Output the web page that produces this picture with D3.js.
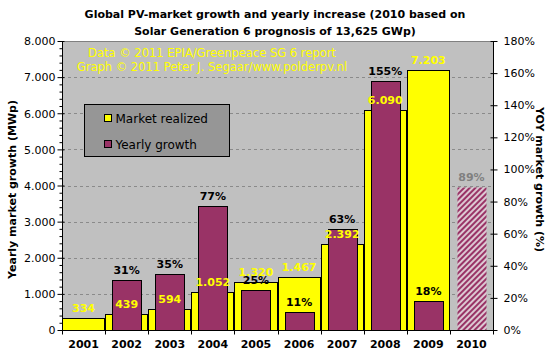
<!DOCTYPE html>
<html>
<head>
<meta charset="UTF-8">
<title>Global PV-market growth</title>
<script src="https://cdn.jsdelivr.net/npm/d3@7"></script>
<style>
  body { margin: 0; background: #fff; }
  text { font-family: "DejaVu Sans", Verdana, sans-serif; }
</style>
</head>
<body>
<div id="chart"></div>
<script>
// data
var years  = ["2001", "2002", "2003", "2004", "2005", "2006", "2007", "2008", "2009", "2010"];
var market = [334, 439, 594, 1052, 1320, 1467, 2392, 6090, 7203, null];  // MWp
var growth = [null, 31, 35, 77, 25, 11, 63, 155, 18, 89];               // % yoy
var prognosis = [false, false, false, false, false, false, false, false, false, true];
var leftTicks  = [0, 1000, 2000, 3000, 4000, 5000, 6000, 7000, 8000];
var rightTicks = [0, 20, 40, 60, 80, 100, 120, 140, 160, 180];

var W = 551, H = 361;
var pL = 62, pR = 493, pT = 41, pB = 330;   // plot area

var nl = d3.formatLocale({decimal: ",", thousands: ".", grouping: [3], currency: ["", ""]});
var fmt = nl.format(",");

var svg = d3.select("#chart").append("svg")
  .attr("width", W).attr("height", H);

var defs = svg.append("defs");
var pat = defs.append("pattern")
  .attr("id", "hatch")
  .attr("patternUnits", "userSpaceOnUse")
  .attr("width", 4).attr("height", 4)
  .attr("patternTransform", "rotate(45)");
pat.append("rect").attr("width", 4).attr("height", 4).attr("fill", "#dcc8d2");
pat.append("rect").attr("width", 2).attr("height", 4).attr("fill", "#993366");

var x = d3.scaleBand().domain(years).range([pL, pR]).padding(0);
var yL = d3.scaleLinear().domain([0, 8000]).range([pB, pT]);
var yR = d3.scaleLinear().domain([0, 180]).range([pB, pT]);

// plot background
svg.append("rect")
  .attr("x", pL).attr("y", pT)
  .attr("width", pR - pL).attr("height", pB - pT)
  .attr("fill", "#c0c0c0");

// gridlines
svg.append("g").selectAll("line")
  .data(leftTicks.filter(function(d){ return d > 0 && d < 8000; }))
  .enter().append("line")
  .attr("x1", pL).attr("x2", pR)
  .attr("y1", function(d){ return Math.round(yL(d)) + 0.5; })
  .attr("y2", function(d){ return Math.round(yL(d)) + 0.5; })
  .attr("stroke", "#8a8a8a")
  .attr("stroke-dasharray", "3,3");

svg.append("line")
  .attr("x1", pL).attr("x2", pR)
  .attr("y1", pT + 0.5).attr("y2", pT + 0.5)
  .attr("stroke", "#808080");

// copyright notes
var note = svg.append("g").attr("fill", "#ffff00").attr("font-size", 11.5).attr("text-anchor", "middle");
note.append("text").attr("x", 212).attr("y", 57).text("Data \u00a9 2011 EPIA/Greenpeace SG 6 report");
note.append("text").attr("x", 212).attr("y", 71).text("Graph \u00a9 2011 Peter J. Segaar/www.polderpv.nl");

// market bars (yellow)
var mIdx = d3.range(years.length).filter(function(i){ return market[i] != null; });
svg.append("g").selectAll("rect")
  .data(mIdx).enter().append("rect")
  .attr("x", function(i){ return Math.round(x(years[i])) + 0.5; })
  .attr("y", function(i){ return Math.round(yL(market[i])) + 0.5; })
  .attr("width", function(i){ return Math.round(x(years[i]) + x.bandwidth()) - Math.round(x(years[i])) - 1; })
  .attr("height", function(i){ return pB - Math.round(yL(market[i])); })
  .attr("fill", "#ffff00")
  .attr("stroke", "#000");

// growth bars (purple)
var bw = Math.round(x.bandwidth() * 0.67);
var gIdx = d3.range(years.length).filter(function(i){ return growth[i] != null; });
svg.append("g").selectAll("rect")
  .data(gIdx).enter().append("rect")
  .attr("x", function(i){ return Math.round(x(years[i]) + (x.bandwidth() - bw) / 2) + 0.5; })
  .attr("y", function(i){ return Math.round(yR(growth[i])) + 0.5; })
  .attr("width", bw)
  .attr("height", function(i){ return pB - Math.round(yR(growth[i])); })
  .attr("fill", function(i){ return prognosis[i] ? "url(#hatch)" : "#993366"; })
  .attr("stroke", function(i){ return prognosis[i] ? "none" : "#000"; });

// value labels
svg.append("g").selectAll("text")
  .data(mIdx).enter().append("text")
  .attr("x", function(i){ return x(years[i]) + x.bandwidth() / 2; })
  .attr("y", function(i){ return yL(market[i]) - 6; })
  .attr("text-anchor", "middle")
  .attr("font-size", 11).attr("font-weight", "bold")
  .attr("fill", "#ffff00")
  .text(function(i){ return fmt(market[i]); });

svg.append("g").selectAll("text")
  .data(gIdx).enter().append("text")
  .attr("x", function(i){ return x(years[i]) + x.bandwidth() / 2; })
  .attr("y", function(i){ return yR(growth[i]) - 6; })
  .attr("text-anchor", "middle")
  .attr("font-size", 11).attr("font-weight", "bold")
  .attr("fill", function(i){ return prognosis[i] ? "#808080" : "#000"; })
  .text(function(i){ return growth[i] + "%"; });

// left axis
var axL = svg.append("g").attr("transform", "translate(" + (pL + 0.5) + ",0)");
axL.call(d3.axisLeft(yL).tickValues(d3.range(0, 8001, 200)).tickSize(3).tickFormat(""));
axL.selectAll(".tick line").filter(function(d){ return d % 1000 === 0; })
  .attr("x1", 2).attr("x2", -5);
axL.selectAll(".tick text").remove();
axL.selectAll(".tick").filter(function(d){ return leftTicks.indexOf(d) >= 0; })
  .append("text")
  .attr("x", -7).attr("dy", "0.35em")
  .attr("fill", "#000").attr("font-size", 11).attr("text-anchor", "end")
  .text(function(d){ return fmt(d); });
axL.select(".domain").attr("d", "M0," + pT + "V" + pB);

// right axis
var axR = svg.append("g").attr("transform", "translate(" + (pR + 0.5) + ",0)");
axR.call(d3.axisRight(yR).tickValues(rightTicks).tickSize(4).tickPadding(6)
  .tickFormat(function(d){ return d + "%"; }));
axR.selectAll(".tick line").attr("x1", -3);
axR.selectAll(".tick text").attr("font-size", 11).attr("font-family", null);
axR.select(".domain").attr("d", "M0," + pT + "V" + pB);

// bottom axis
var axB = svg.append("g").attr("transform", "translate(0," + (pB + 0.5) + ")");
axB.call(d3.axisBottom(x).tickSize(0).tickPadding(10));
axB.select(".domain").attr("d", "M" + pL + ",0H" + pR);
axB.selectAll(".tick text").attr("font-size", 11).attr("font-weight", "bold").attr("font-family", null);
axB.selectAll("line.sep")
  .data(years.concat(["end"])).enter().append("line")
  .attr("class", "sep")
  .attr("x1", function(d, i){ return Math.round(pL + i * x.bandwidth()) + 0.5; })
  .attr("x2", function(d, i){ return Math.round(pL + i * x.bandwidth()) + 0.5; })
  .attr("y1", 0).attr("y2", 4)
  .attr("stroke", "#000");

// axis titles
svg.append("text")
  .attr("transform", "translate(16," + ((pT + pB) / 2 + 4) + ") rotate(-90)")
  .attr("text-anchor", "middle")
  .attr("font-size", 11).attr("font-weight", "bold")
  .text("Yearly market growth (MWp)");

svg.append("text")
  .attr("transform", "translate(536," + ((pT + pB) / 2 - 6) + ") rotate(90)")
  .attr("text-anchor", "middle")
  .attr("font-size", 11).attr("font-weight", "bold")
  .text("YOY market growth (%)");

// title
var title = svg.append("g").attr("text-anchor", "middle").attr("font-size", 11).attr("font-weight", "bold");
title.append("text").attr("x", 275).attr("y", 18).text("Global PV-market growth and yearly increase (2010 based on");
title.append("text").attr("x", 275).attr("y", 35).text("Solar Generation 6 prognosis of 13,625 GWp)");

// legend
var lg = svg.append("g").attr("transform", "translate(84.5,104.5)");
lg.append("rect").attr("width", 145).attr("height", 52)
  .attr("fill", "#969696").attr("stroke", "#000");
var items = [{label: "Market realized", color: "#ffff00"}, {label: "Yearly growth", color: "#993366"}];
var li = lg.selectAll("g.item").data(items).enter().append("g")
  .attr("class", "item")
  .attr("transform", function(d, i){ return "translate(20," + (10 + i * 26) + ")"; });
li.append("rect").attr("width", 7).attr("height", 7)
  .attr("fill", function(d){ return d.color; }).attr("stroke", "#000");
li.append("text").attr("x", 11).attr("y", 8)
  .attr("font-size", 12).text(function(d){ return d.label; });
</script>
</body>
</html>
